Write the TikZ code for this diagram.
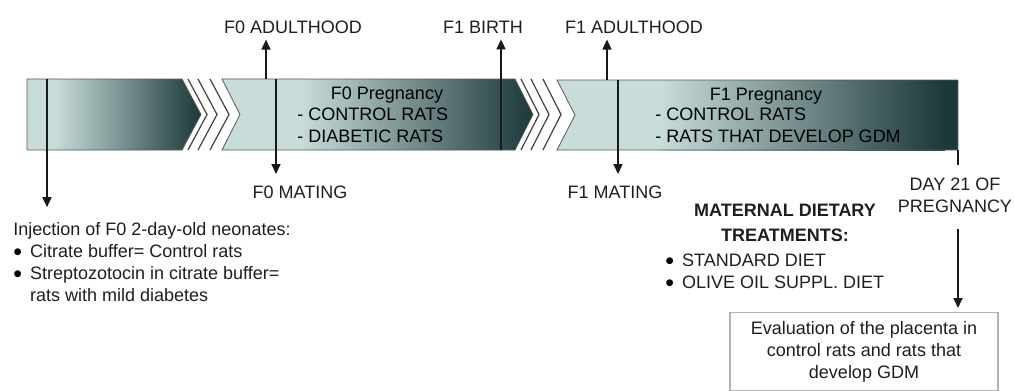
\documentclass[tikz,border=0pt]{standalone}
\usepackage{fontspec}
\setmainfont{Liberation Sans}
\usepackage{tikz}
\usetikzlibrary{arrows.meta,positioning}
\definecolor{barlight}{RGB}{200,220,218}
\definecolor{bardark}{RGB}{28,56,58}
\definecolor{txtgrey}{RGB}{30,30,30}
\newcommand{\bigbul}{\raisebox{-1.6pt}[5pt][0pt]{\textcolor{black}{\fontsize{12.5}{11}\selectfont •}}}

\begin{document}
\begin{tikzpicture}[x=0.5pt, y=-0.5pt,
    every node/.style={font=\fontsize{9}{11}\selectfont, text=txtgrey, inner sep=0pt},
    segline/.style={draw=black!65, line width=0.4pt},
    chevline/.style={draw=black!75, line width=0.6pt},
    evline/.style={line width=0.8pt, black!90},
    evarrow/.style={evline, -{Triangle[width=4.5pt,length=5pt]}}]
  \useasboundingbox (0,0) rectangle (1014,391);

  % the time bar
  \fill[barlight] (27,79) -- (182,79) -- (201,114.5) -- (182,150) -- (27,150) -- cycle;
  \shade[left color=barlight, right color=bardark] (55,79) -- (182,79) -- (201,114.5) -- (182,150) -- (55,150) -- cycle;
  \draw[segline] (27,79) -- (182,79) -- (201,114.5) -- (182,150) -- (27,150) -- cycle;
  \foreach \dx in {6,16,28}
    \draw[chevline] (182+\dx,79) -- (201+\dx,114.5) -- (182+\dx,150);

  \fill[barlight] (222,79) -- (515,79) -- (533,114.5) -- (515,150) -- (222,150) -- (240,114.5) -- cycle;
  \shade[left color=barlight, right color=bardark] (300,79) -- (515,79) -- (533,114.5) -- (515,150) -- (300,150) -- cycle;
  \draw[segline] (222,79) -- (515,79) -- (533,114.5) -- (515,150) -- (222,150) -- (240,114.5) -- cycle;
  \foreach \dx in {6,16,28}
    \draw[chevline] (515+\dx,79) -- (533+\dx,114.5) -- (515+\dx,150);

  \fill[barlight] (557,80) -- (958,80) -- (958,150) -- (557,150) -- (575,115) -- cycle;
  \shade[left color=barlight, right color=bardark] (660,80) -- (945,80) -- (945,150) -- (660,150) -- cycle;
  \fill[bardark] (945,80) rectangle (958,150);
  \draw[segline] (557,80) -- (958,80) -- (958,150) -- (557,150) -- (575,115) -- cycle;

  % texts in the bar
  \node[anchor=base, text=black] (preg0) at (387,99) {F0 Pregnancy};
  \node[anchor=base west, text=black] (preg0list) at (297,120) {\begin{tabular}[t]{@{}l@{}}- CONTROL RATS\\- DIABETIC RATS\end{tabular}};
  \node[anchor=base, text=black] (preg1) at (766,100) {F1 Pregnancy};
  \node[anchor=base west, text=black] (preg1list) at (655,120) {\begin{tabular}[t]{@{}l@{}}- CONTROL RATS\\- RATS THAT DEVELOP GDM\end{tabular}};

  % events
  \coordinate (inj) at (47,79);
  \coordinate (adult0) at (266,79);
  \coordinate (mating0) at (276,79);
  \coordinate (birth1) at (501,150);
  \coordinate (adult1) at (607,80);
  \coordinate (mating1) at (618,80);
  \coordinate (day21) at (958,150);

  \node[anchor=base] (adult0lbl) at (293,33) {F0 ADULTHOOD};
  \node[anchor=base] (birth1lbl) at (483,33) {F1 BIRTH};
  \node[anchor=base] (adult1lbl) at (634,33) {F1 ADULTHOOD};
  \node[anchor=base] (mating0lbl) at (300,198) {F0 MATING};
  \node[anchor=base] (mating1lbl) at (615,198) {F1 MATING};
  \node[anchor=base] (day21lbl) at (955,190) {\begin{tabular}[t]{@{}c@{}}DAY 21 OF\\PREGNANCY\end{tabular}};

  \draw[evarrow, shorten >=3pt] (adult0) -- (adult0 |- adult0lbl.south);
  \draw[evarrow, shorten >=3pt] (birth1) -- (birth1 |- birth1lbl.south);
  \draw[evarrow, shorten >=3pt] (adult1) -- (adult1 |- adult1lbl.south);
  \draw[evarrow, shorten >=5.5pt] (mating0) -- (mating0 |- mating0lbl.north);
  \draw[evarrow, shorten >=5.5pt] (mating1) -- (mating1 |- mating1lbl.north);
  \draw[evline, shorten >=4.5pt] (day21) -- (day21 |- day21lbl.north);

  % injection
  \node[anchor=base west] (injtext) at (13,235) {\begin{tabular}[t]{@{}l@{\hspace{4pt}}l@{}}
    \multicolumn{2}{@{}l@{}}{Injection of F0 2-day-old neonates:}\\
    \bigbul& Citrate buffer= Control rats\\
    \bigbul& Streptozotocin in citrate buffer=\\
     & rats with mild diabetes
  \end{tabular}};
  \draw[evarrow, shorten >=6pt] (inj) -- (inj |- injtext.north);

  % dietary treatments
  \node[anchor=base] (diet) at (785,216) {\begin{tabular}[t]{@{}c@{}}\bfseries MATERNAL DIETARY\\[1.5pt]\bfseries TREATMENTS:\end{tabular}};
  \node[anchor=base west] (dietlist) at (665,266) {\begin{tabular}[t]{@{}l@{\hspace{4pt}}l@{}}
    \bigbul& STANDARD DIET\\
    \bigbul& OLIVE OIL SUPPL. DIET
  \end{tabular}};

  % evaluation
  \node[draw=black!30, line width=0.6pt, anchor=north, minimum width=134pt, minimum height=39pt, align=center] (evalbox) at (864,312)
    {Evaluation of the placenta in\\control rats and rats that\\develop GDM};
  \draw[evarrow, shorten <=5pt, shorten >=2pt] (day21lbl.south -| day21) -- (day21 |- evalbox.north);
\end{tikzpicture}
\end{document}
